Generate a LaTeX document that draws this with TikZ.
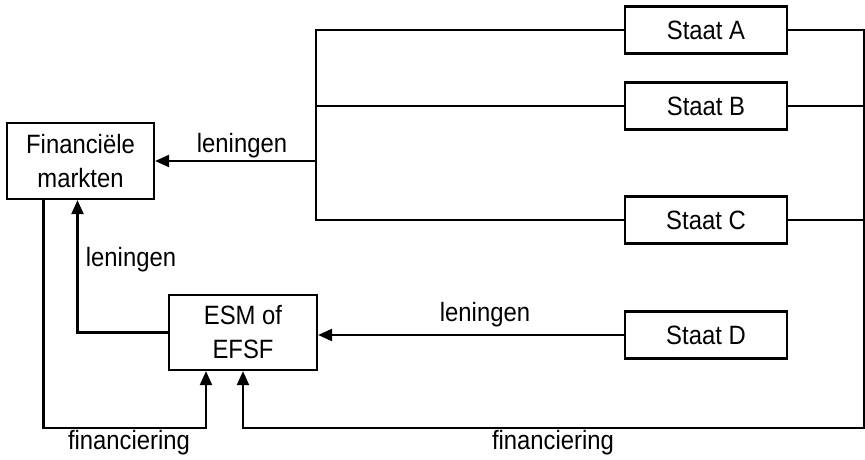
\documentclass[tikz,border=0pt]{standalone}
\usepackage{fontspec}
\setmainfont{Liberation Sans}[FakeStretch=0.9]
\usepackage{tikz}
\usetikzlibrary{arrows.meta}
\tikzstyle{ln}=[line width=2.2pt]
\tikzstyle{pl}=[line width=2.2pt, -{Triangle[length=14pt,width=12pt]}]
\tikzstyle{bx}=[draw, line width=2.2pt, inner sep=0pt, align=center, font=\fontsize{26.5}{34}\selectfont]
\tikzstyle{st}=[bx, minimum width=162pt, minimum height=47pt]
\tikzstyle{lb}=[inner sep=0pt, anchor=base, font=\fontsize{26.5}{34}\selectfont]

\begin{document}
\begin{tikzpicture}[x=1pt, y=-1pt]
\useasboundingbox (0,0) rectangle (865,460);

\node[bx, minimum width=147pt, minimum height=76pt] (fm) at (80.5,161) {Financiële\\markten};
\node[bx, minimum width=148pt, minimum height=75pt] (esm) at (243,332.5) {ESM of\\EFSF};
\node[st] (a) at (706,30) {Staat A};
\node[st] (b) at (706,106) {Staat B};
\node[st] (c) at (706,220) {Staat C};
\node[st] (d) at (706,335) {Staat D};

\coordinate (tr) at (316,0);
\coordinate (re) at (864,0);
\coordinate (on) at (0,428);
\coordinate (fl) at ([xshift=-37pt]fm.south);
\coordinate (el) at ([xshift=-37pt]esm.south);

\draw[ln] (a.west) -- (a.west -| tr) -- (c.west -| tr) -- (c.west);
\draw[ln] (b.west) -- (b.west -| tr);
\draw[pl] (fm.east -| tr) -- (fm.east);
\draw[pl] (d.west) -- (d.west -| esm.east);
\draw[pl] (esm.west) -| ([xshift=-3pt]fm.south);
\draw[pl] (fl) |- (el |- on) -- (el);
\draw[pl] (a.east) -- (a.east -| re) -- (re |- on) -| (esm.south);
\draw[ln] (b.east) -- (b.east -| re);
\draw[ln] (c.east) -- (c.east -| re);

\node[lb] (l1) at (242,152) {leningen};
\node[lb] (l2) at (131,266) {leningen};
\node[lb] (l3) at (485,321) {leningen};
\node[lb] (f1) at (129,449) {financiering};
\node[lb] (f2) at (553,449) {financiering};

\end{tikzpicture}
\end{document}
